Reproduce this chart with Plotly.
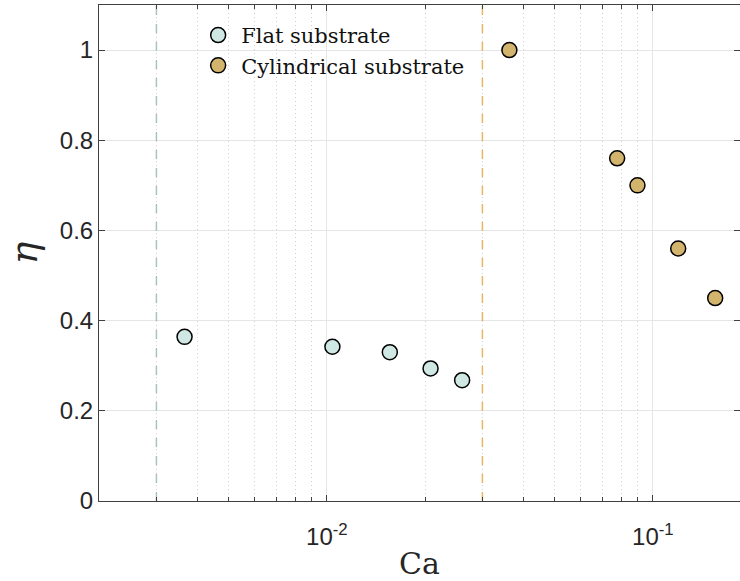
import numpy as np
import plotly.graph_objects as go

# Data
flat_ca = [0.00366, 0.0104, 0.0156, 0.0208, 0.0260]
flat_eta = [0.364, 0.342, 0.330, 0.294, 0.268]
cyl_ca = [0.0363, 0.0777, 0.0897, 0.1196, 0.1553]
cyl_eta = [1.0, 0.76, 0.70, 0.56, 0.45]
flat_threshold = 0.003
cyl_threshold = 0.03
y_ticks = [0, 0.2, 0.4, 0.6, 0.8, 1]
y_ticklabels = ["0", "0.2", "0.4", "0.6", "0.8", "1"]
x_ticks = [0.01, 0.1]
x_ticklabels = ["10<sup>-2</sup>", "10<sup>-1</sup>"]
x_minor = [0.002, 0.003, 0.004, 0.005, 0.006, 0.007, 0.008, 0.009,
           0.02, 0.03, 0.04, 0.05, 0.06, 0.07, 0.08, 0.09, 0.2]

fig = go.Figure()

fig.add_trace(go.Scatter(x=[flat_threshold, flat_threshold], y=[0, 1.1], mode="lines",
                         line=dict(color="#a8c4c0", width=1.5, dash="dash"),
                         showlegend=False, hoverinfo="skip"))
fig.add_trace(go.Scatter(x=[cyl_threshold, cyl_threshold], y=[0, 1.1], mode="lines",
                         line=dict(color="#e6b764", width=1.5, dash="dash"),
                         showlegend=False, hoverinfo="skip"))

fig.add_trace(go.Scatter(x=flat_ca, y=flat_eta, mode="markers", name="Flat substrate",
                         marker=dict(size=15, color="#cfe8e3",
                                     line=dict(color="black", width=1.5))))
fig.add_trace(go.Scatter(x=cyl_ca, y=cyl_eta, mode="markers", name="Cylindrical substrate",
                         marker=dict(size=15, color="#d3b46d",
                                     line=dict(color="black", width=1.5))))

axis_common = dict(showline=True, linecolor="#404040", linewidth=1, mirror="ticks",
                   ticks="inside", tickcolor="#404040", ticklen=6,
                   tickfont=dict(family="Liberation Sans, Arial", size=24, color="#262626"),
                   zeroline=False, showgrid=True, gridcolor="#e6e6e6", gridwidth=1)

fig.update_xaxes(type="log", range=[np.log10(0.002), -0.7327],
                 tickmode="array", tickvals=x_ticks, ticktext=x_ticklabels,
                 ticklabelstandoff=14,
                 minor=dict(tickmode="array", tickvals=x_minor, ticks="inside", ticklen=4,
                            tickcolor="#404040", showgrid=True, gridcolor="#cfcfcf",
                            griddash="1px,3px", gridwidth=1),
                 title=dict(text="Ca", font=dict(family="DejaVu Serif, serif", size=30, color="#262626"),
                            standoff=8),
                 **axis_common)
fig.update_yaxes(range=[0, 1.1], tickmode="array", tickvals=y_ticks, ticktext=y_ticklabels,
                 title=dict(text="<i>η</i>", font=dict(family="DejaVu Serif, serif", size=38, color="#262626"),
                            standoff=10),
                 **axis_common)

fig.update_layout(
    width=740, height=581,
    margin=dict(l=99, r=0, t=5, b=80),
    plot_bgcolor="white", paper_bgcolor="white",
    legend=dict(x=0.15, y=0.98, xanchor="left", yanchor="top",
                bgcolor="rgba(0,0,0,0)", borderwidth=0,
                font=dict(family="DejaVu Serif, serif", size=21, color="#111111"),
                itemwidth=36, tracegroupgap=0),
)

fig.write_html("out.html")
